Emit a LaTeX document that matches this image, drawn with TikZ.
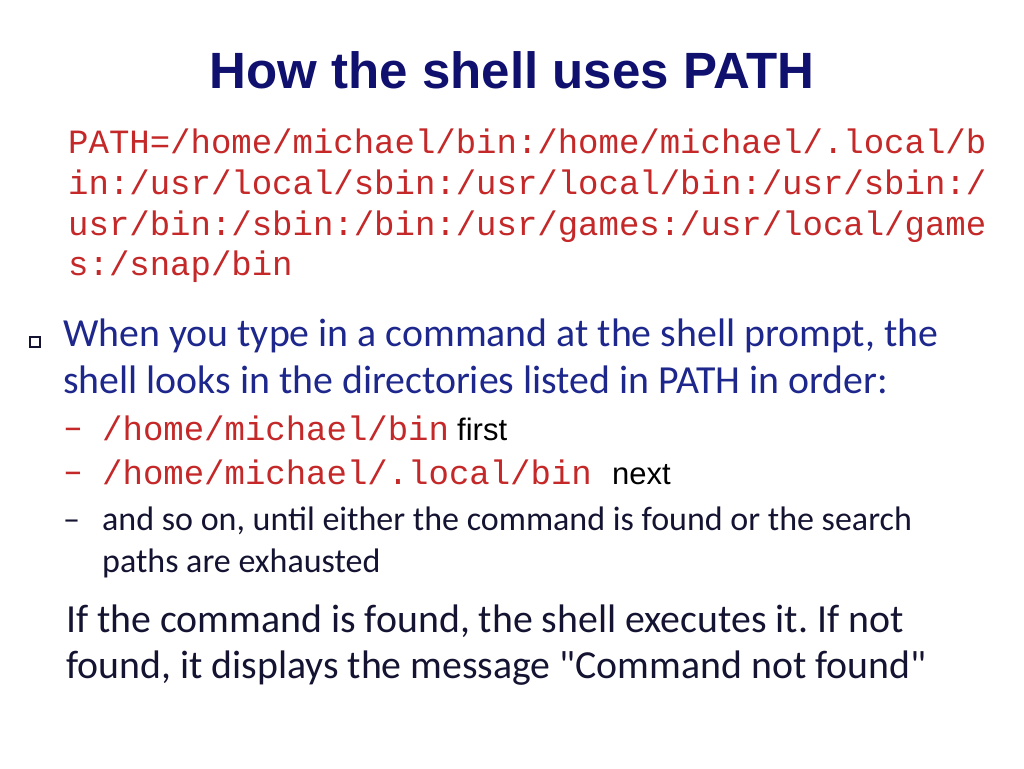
\documentclass[tikz,border=0pt]{standalone}
\usepackage{fontspec}
\setmainfont{Carlito}
\newfontfamily\plainq[Ligatures=ResetAll]{Carlito}
\newfontfamily\arialf{Liberation Sans}
\newfontfamily\monof{Liberation Mono}
\definecolor{titlec}{RGB}{16,16,110}
\definecolor{redc}{RGB}{196,40,40}
\definecolor{bodyc}{RGB}{30,40,140}
\definecolor{darkc}{RGB}{20,20,50}
\frenchspacing
\begin{document}
\begin{tikzpicture}[x=1pt,y=-1pt,
  t/.style={anchor=base west,inner sep=0pt},
  mono/.style={t,font=\monof\fontsize{34}{40}\selectfont,text=redc},
  body/.style={t,font=\fontsize{39.8}{46}\selectfont,text=bodyc},
  sub/.style={t,font=\fontsize{34}{40}\selectfont,text=darkc},
  word/.style={t,font=\arialf\fontsize{31}{36}\selectfont,text=black}]
\useasboundingbox[fill=white] (0,0) rectangle (1024,768);
\node[anchor=base,inner sep=0pt,font=\arialf\bfseries\fontsize{51}{58}\selectfont,text=titlec] (title) at (512,88) {How the shell uses PATH};
\node[mono] (p1) at (68,153) {PATH=/home/michael/bin:/home/michael/.local/b};
\node[mono] (p2) at (68,194) {in:/usr/local/sbin:/usr/local/bin:/usr/sbin:/};
\node[mono] (p3) at (68,235) {usr/bin:/sbin:/bin:/usr/games:/usr/local/game};
\node[mono] (p4) at (68,275) {s:/snap/bin};
\draw[darkc,line width=1.2pt] (30,337) rectangle (40,347);
\node[body] (b1) at (63,346) {When you type in a command at the shell prompt, the};
\node[body] (b2) at (63,393) {shell looks in the directories listed in PATH in order:};
\node[body,text=redc] (d1) at (63,440) {–};
\node[mono] (s1) at (102,440) {/home/michael/bin};
\node[word] (f1) at (457,440) {first};
\node[body,text=redc] (d2) at (63,484) {–};
\node[mono] (s2) at (102,484) {/home/michael/.local/bin};
\node[word] (f2) at (612,484) {next};
\node[sub] (d3) at (63,530) {–};
\node[sub] (s3) at (102,530) {and so on, until either the command is found or the search};
\node[sub] (s4) at (102,572) {paths are exhausted};
\node[body,text=darkc] (e1) at (66,632) {If the command is found, the shell executes it. If not};
\node[body,text=darkc] (e2) at (66,678) {found, it displays the message {\plainq"}Command not found{\plainq"}};
\end{tikzpicture}
\end{document}
